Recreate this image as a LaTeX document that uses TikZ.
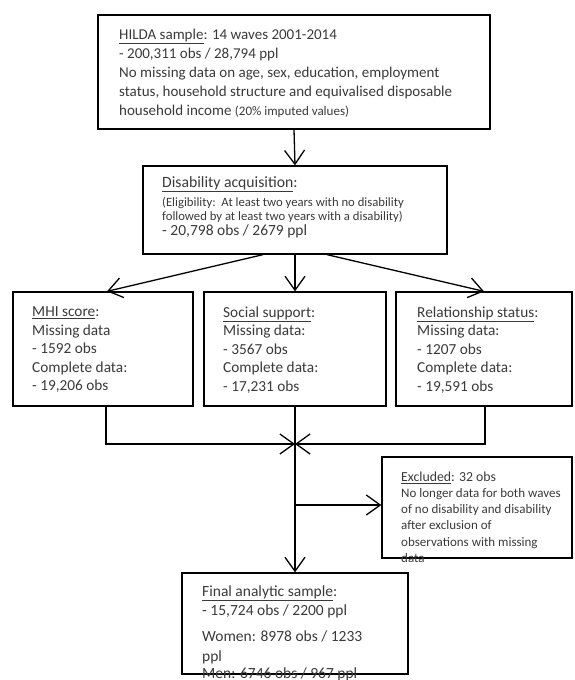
\documentclass[tikz,border=0pt]{standalone}
\usepackage{fontspec}
\setmainfont{Carlito}
\usetikzlibrary{arrows.meta,calc}
\definecolor{txt}{HTML}{3A3A3A}
\AtBeginDocument{\lineskiplimit=-50pt\relax}
\begin{document}
\begin{tikzpicture}[x=1pt,y=-1pt,
  box/.style={draw=black,line width=1.3pt,rectangle,inner sep=0pt},
  btext/.style={anchor=north west,inner sep=0pt,align=left,text=txt},
  arr/.style={line width=1.3pt,-{Straight Barb[length=14pt,width=20pt,line width=1.3pt]}},
  conn/.style={line width=1.3pt}]
\useasboundingbox (0,0) rectangle (574,680);
% boxes
\node[box,minimum width=392pt,minimum height=114pt] (top) at (294,72) {};
\node[box,minimum width=304pt,minimum height=88pt] (dis) at (295,210) {};
\node[box,minimum width=180pt,minimum height=114pt] (mhi) at (103,349) {};
\node[box,minimum width=182pt,minimum height=114pt] (soc) at (295,349) {};
\node[box,minimum width=176pt,minimum height=114pt] (rel) at (484,349) {};
\node[box,minimum width=190pt,minimum height=101pt] (exc) at (477,507.5) {};
\node[box,minimum width=226pt,minimum height=101pt] (fin) at (295,623.5) {};
% texts
\node[btext,font=\fontsize{15}{19.2}\selectfont] (toptext) at (119,28.5)
 {\underline{HILDA sample}: 14 waves 2001-2014\\
  - 200,311 obs / 28,794 ppl\\
  No missing data on age, sex, education, employment\\
  status, household structure and equivalised disposable\\
  household income {\fontsize{13}{19.2}\selectfont (20\% imputed values)}};
\node[btext,font=\fontsize{12.7}{14}\selectfont] (distext) at (162,176.5)
 {{\fontsize{15.7}{14}\selectfont\underline{Disability acquisition}:}\\[5pt]
  (Eligibility:\ \ At least two years with no disability\\
  followed by at least two years with a disability)\\[0.5pt]
  {\fontsize{15.5}{14}\selectfont - 20,798 obs / 2679 ppl}};
\node[btext,font=\fontsize{15.3}{18.5}\selectfont] (mhitext) at (32,306.5)
 {\underline{MHI score}:\\ Missing data\\ - 1592 obs\\ Complete data:\\ - 19,206 obs};
\node[btext,font=\fontsize{15.3}{18.5}\selectfont] (soctext) at (223,306.5)
 {\underline{Social support}:\\ Missing data:\\ - 3567 obs\\ Complete data:\\ - 17,231 obs};
\node[btext,font=\fontsize{15.3}{18.5}\selectfont] (reltext) at (417,306.5)
 {\underline{Relationship status}:\\ Missing data:\\ - 1207 obs\\ Complete data:\\ - 19,591 obs};
\node[btext,font=\fontsize{13}{16.2}\selectfont] (exctext) at (401,471.5)
 {{\fontsize{13.8}{16.2}\selectfont\underline{Excluded}: 32 obs}\\
  No longer data for both waves\\
  of no disability and disability\\
  after exclusion of\\
  observations with missing\\
  data};
\node[btext,font=\fontsize{15.5}{19.5}\selectfont] (fintext) at (202,585.5)
 {\underline{Final analytic sample}:\\
  - 15,724 obs / 2200 ppl\\[6.5pt]
  Women: 8978 obs / 1233\\
  ppl\\[-2pt]
  Men: 6746 obs / 967 ppl};
% connectors
\coordinate (j) at (295,444);
\coordinate (b) at (295,505);
\draw[arr] (top.south) -- (dis.north);
\draw[arr] ([xshift=-32pt]dis.south) -- ([xshift=4pt]mhi.north);
\draw[arr] (dis.south) -- (soc.north);
\draw[arr] ([xshift=32pt]dis.south) -- (rel.north);
\draw[arr] ([xshift=3pt]mhi.south) |- (j);
\draw[arr] ([xshift=1pt]rel.south) |- (j);
\draw[arr] (soc.south) -- (fin.north);
\draw[arr] (b) -- (b -| exc.west);
\end{tikzpicture}
\end{document}
